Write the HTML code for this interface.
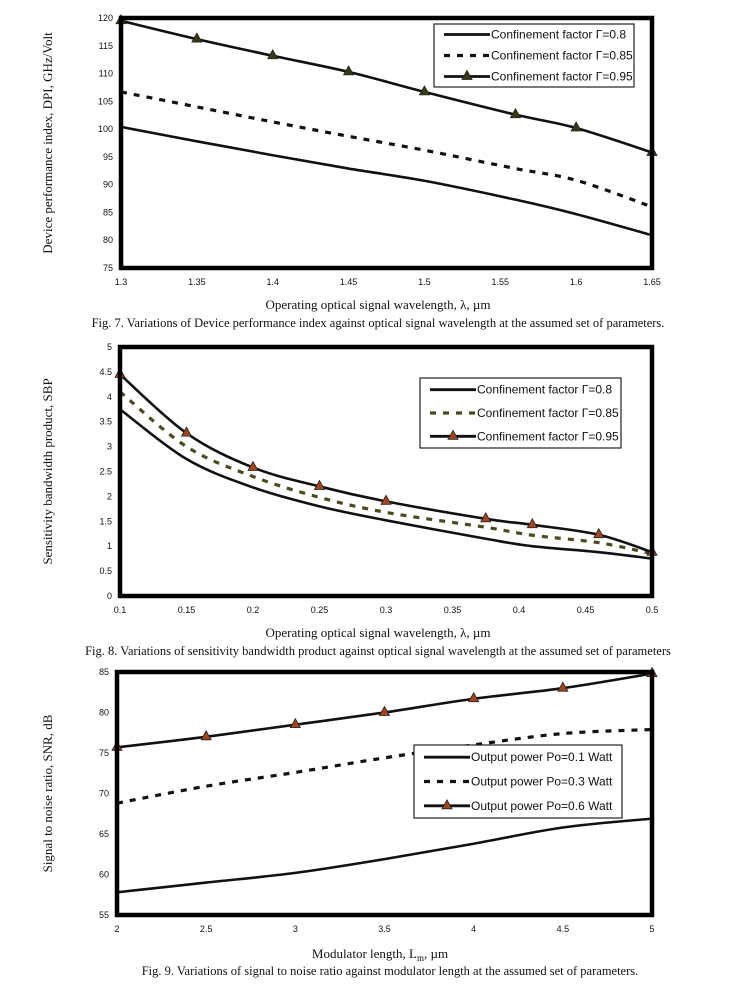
<!DOCTYPE html>
<html><head><meta charset="utf-8"><style>
html,body{margin:0;padding:0;background:#fff;}
svg{display:block;}
.tk{font-family:"Liberation Sans",sans-serif;font-size:9px;fill:#111;}
.lg{font-family:"Liberation Sans",sans-serif;font-size:12px;fill:#111;}
.ax{font-family:"Liberation Serif",serif;font-size:13px;fill:#111;}
.cap{font-family:"Liberation Serif",serif;font-size:12.5px;fill:#111;}
</style></head><body>
<svg id="root" width="739" height="992" viewBox="0 0 739 992" xmlns="http://www.w3.org/2000/svg"></svg>
<script>
// Fig 7 data
const f7X = [1.3,1.35,1.4,1.45,1.5,1.56,1.6,1.65];
const f7A = [100.4,97.8,95.3,92.9,90.7,87.3,84.7,80.9];
const f7B = [106.7,104,101.3,98.7,96.2,92.9,90.8,86];
const f7C = [119.5,116.2,113.2,110.3,106.7,102.6,100.2,95.8];
const f7XTicks = ["1.3","1.35","1.4","1.45","1.5","1.55","1.6","1.65"];
const f7YTicks = [75,80,85,90,95,100,105,110,115,120];
// Fig 8 data
const f8X = [0.1,0.15,0.2,0.25,0.3,0.375,0.41,0.46,0.5];
const f8A = [3.75,2.75,2.18,1.8,1.52,1.15,1.0,0.88,0.75];
const f8B = [4.1,3.0,2.4,1.98,1.68,1.38,1.22,1.07,0.85];
const f8C = [4.45,3.27,2.58,2.2,1.9,1.55,1.43,1.23,0.88];
const f8XTicks = ["0.1","0.15","0.2","0.25","0.3","0.35","0.4","0.45","0.5"];
const f8YTicks = [0,0.5,1,1.5,2,2.5,3,3.5,4,4.5,5];
// Fig 9 data
const f9X = [2,2.5,3,3.5,4,4.5,5];
const f9A = [57.8,59,60.2,61.9,63.8,65.8,66.9];
const f9B = [68.8,70.9,72.6,74.4,76,77.4,77.9];
const f9C = [75.7,77,78.5,80,81.7,83,84.8];
const f9XTicks = ["2","2.5","3","3.5","4","4.5","5"];
const f9YTicks = [55,60,65,70,75,80,85];

const NS="http://www.w3.org/2000/svg";
const root=document.getElementById('root');
function mk(tag,attrs,parent){const e=document.createElementNS(NS,tag);for(const k in attrs)e.setAttribute(k,attrs[k]);(parent||root).appendChild(e);return e;}
function smooth(pts){let d=`M${pts[0][0]},${pts[0][1]}`;for(let i=0;i<pts.length-1;i++){const p0=pts[i-1]||pts[i],p1=pts[i],p2=pts[i+1],p3=pts[i+2]||p2;const c1=[p1[0]+(p2[0]-p0[0])/6,p1[1]+(p2[1]-p0[1])/6];const c2=[p2[0]-(p3[0]-p1[0])/6,p2[1]-(p3[1]-p1[1])/6];d+=` C${c1[0]},${c1[1]} ${c2[0]},${c2[1]} ${p2[0]},${p2[1]}`;}return d;}

function chart(o){
  const g=mk('g',{});
  
  
  const sx=v=>o.L+(v-o.xmin)/(o.xmax-o.xmin)*(o.R-o.L);
  const sy=v=>o.B-(v-o.ymin)/(o.ymax-o.ymin)*(o.B-o.T);
  o.yTicks.forEach(t=>{const e=mk('text',{x:o.L-8,y:sy(t)+3,'text-anchor':'end',class:'tk'},g);e.textContent=String(t);
    
    });
  o.xTicks.forEach((t,i)=>{const v=o.xmin+i*(o.xmax-o.xmin)/(o.xTicks.length-1);const e=mk('text',{x:sx(v),y:o.B+17,'text-anchor':'middle',class:'tk'},g);e.textContent=t;
    
    });
  const series=[[o.a,'solid'],[o.b,'dash'],[o.c,'marker']];
  series.forEach(([ys,kind],si)=>{
    const pts=o.x.map((v,i)=>[sx(v),sy(ys[i])]);
    const p=mk('path',{d:smooth(pts),fill:'none',stroke:kind==='dash'?o.dashColor:'#111','stroke-width':kind==='dash'?3.2:2.6,'stroke-dasharray':kind==='dash'?'6,7':'none'},g);
    
    
    if(kind==='marker'){pts.forEach(q=>{const m=mk('path',{d:`M${q[0]},${q[1]-6} L${q[0]+5},${q[1]+3} L${q[0]-5},${q[1]+3} Z`,fill:o.mColor,stroke:'#222','stroke-width':0.8},g);
      
      });}
  });
  const fr=mk('rect',{x:o.L,y:o.T,width:o.R-o.L,height:o.B-o.T,fill:'none',stroke:'#000','stroke-width':4.5},g);
  
  
  const lg=mk('g',{},g);
  
  
  const [lx,ly,lw,lh]=o.leg;
  mk('rect',{x:lx,y:ly,width:lw,height:lh,fill:'#fff',stroke:'#222','stroke-width':1.2},lg);
  o.labels.forEach((t,i)=>{const yy=ly+lh*(i+0.5)/3;const x1=lx+10,x2=lx+56;
    if(i===1)mk('line',{x1,y1:yy,x2,y2:yy,stroke:o.dashColor,'stroke-width':3.2,'stroke-dasharray':'6,7'},lg);
    else mk('line',{x1,y1:yy,x2,y2:yy,stroke:'#111','stroke-width':2.8},lg);
    if(i===2){const cx=(x1+x2)/2;mk('path',{d:`M${cx},${yy-6} L${cx+5},${yy+3} L${cx-5},${yy+3} Z`,fill:o.mColor,stroke:'#222','stroke-width':0.8},lg);}
    const e=mk('text',{x:x2+1,y:yy+4,class:'lg'},lg);e.textContent=t;
    
    });
  const yt=mk('text',{x:0,y:0,transform:`translate(${o.yLabX},${(o.T+o.B)/2}) rotate(-90)`,'text-anchor':'middle',class:'ax'},g);yt.textContent=o.yLabel;
  
  
  const xt=mk('text',{x:o.xLabX,y:o.xLabY,'text-anchor':'middle',class:'ax'},g);xt.innerHTML=o.xLabel;
  
  
  const cp=mk('text',{x:o.capX,y:o.capY,'text-anchor':'middle',class:'cap'},g);cp.textContent=o.cap;
  
  
}
chart({name:'fig7-chart',L:121,R:652,T:18,B:268,xmin:1.3,xmax:1.65,ymin:75,ymax:120,x:f7X,a:f7A,b:f7B,c:f7C,xTicks:f7XTicks,yTicks:f7YTicks,
  dashColor:'#111',mColor:'#3a3a12',leg:[434,24,200,63],
  labels:['Confinement factor Γ=0.8','Confinement factor Γ=0.85','Confinement factor Γ=0.95'],
  yLabel:'Device performance index, DPI, GHz/Volt',yLabX:52,xLabel:'Operating optical signal wavelength, λ, µm',xLabX:378,xLabY:309,
  cap:'Fig. 7. Variations of  Device performance index against optical signal wavelength at the assumed set of parameters.',capX:378,capY:327});
chart({name:'fig8-chart',L:120,R:652,T:347,B:596,xmin:0.1,xmax:0.5,ymin:0,ymax:5,x:f8X,a:f8A,b:f8B,c:f8C,xTicks:f8XTicks,yTicks:f8YTicks,
  dashColor:'#4a4a1e',mColor:'#a2441c',leg:[420,378,201,70],
  labels:['Confinement factor Γ=0.8','Confinement factor Γ=0.85','Confinement factor Γ=0.95'],
  yLabel:'Sensitivity bandwidth product, SBP',yLabX:52,xLabel:'Operating optical signal wavelength, λ, µm',xLabX:378,xLabY:637,
  cap:'Fig. 8. Variations of sensitivity bandwidth product against optical signal wavelength at the assumed set of parameters',capX:378,capY:655});
chart({name:'fig9-chart',L:117,R:652,T:672,B:915,xmin:2,xmax:5,ymin:55,ymax:85,x:f9X,a:f9A,b:f9B,c:f9C,xTicks:f9XTicks,yTicks:f9YTicks,
  dashColor:'#111',mColor:'#a2441c',leg:[414,745,208,73],
  labels:['Output power Po=0.1 Watt','Output power Po=0.3 Watt','Output power Po=0.6 Watt'],
  yLabel:'Signal to noise ratio, SNR, dB',yLabX:52,xLabel:'Modulator length, L<tspan font-size="9" dy="3">m</tspan><tspan dy="-3">, µm</tspan>',xLabX:380,xLabY:958,
  cap:'Fig. 9. Variations of signal to noise ratio against modulator length at the assumed set of parameters.',capX:390,capY:975});
</script>
</body></html>
